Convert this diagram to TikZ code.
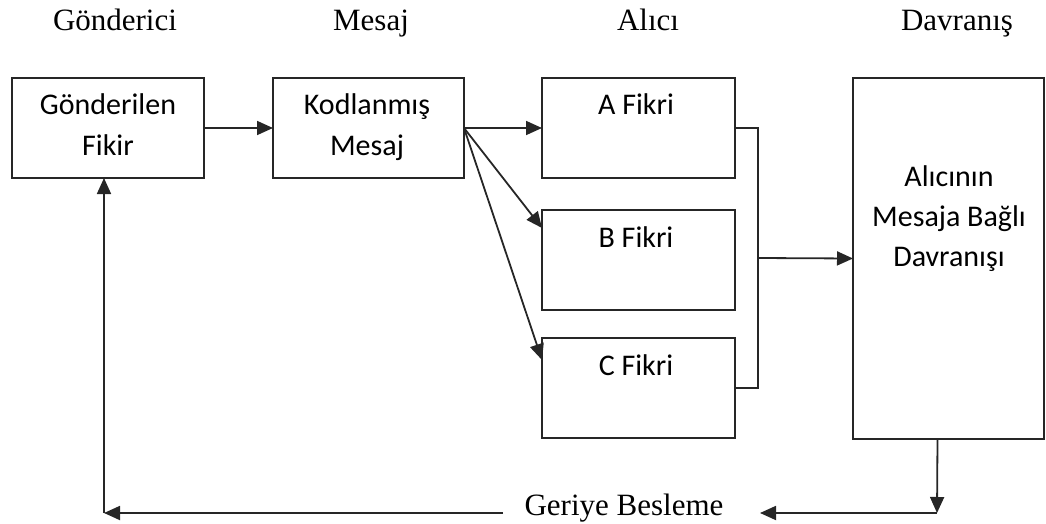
\documentclass[tikz,border=0pt]{standalone}
\usepackage{fontspec}
\setmainfont{Liberation Serif}
\newfontfamily\boxfont{Carlito}
\usetikzlibrary{arrows.meta,calc}
\begin{document}
\begin{tikzpicture}[x=1pt,y=-1pt,
  box/.style={draw=black!85, line width=1.8pt, inner sep=0pt, outer sep=0pt},
  boxtext/.style={font=\boxfont\fontsize{30}{40}\selectfont, align=center, anchor=base, inner sep=0pt},
  head/.style={font=\fontsize{31}{36}\selectfont, anchor=base, inner sep=0pt},
  link/.style={draw=black!85, line width=1.8pt},
  arr/.style={link, -{Triangle[length=16pt,width=14pt]}}]
\useasboundingbox (0,0) rectangle (1046,524);

% column headings
\node[head] (h1) at (115,31) {Gönderici};
\node[head] (h2) at (371,31) {Mesaj};
\node[head] (h3) at (648,31) {Alıcı};
\node[head] (h4) at (957,31) {Davranış};

% boxes
\node[box, minimum width=192pt, minimum height=100pt] (g) at (108,128) {};
\node[box, minimum width=191pt, minimum height=100pt] (k) at (368.5,128) {};
\node[box, minimum width=193pt, minimum height=100pt] (a) at (638.5,128) {};
\node[box, minimum width=193pt, minimum height=100pt] (b) at (638.5,260) {};
\node[box, minimum width=193pt, minimum height=100pt] (c) at (638.5,388) {};
\node[box, minimum width=191pt, minimum height=361pt] (d) at (948.5,258.5) {};

% box texts (base = baseline of the last line)
\node[boxtext] (gt) at (108,155) {Gönderilen\\Fikir};
\node[boxtext] (kt) at (367,155) {Kodlanmış\\Mesaj};
\node[boxtext] (at) at (636,115) {A Fikri};
\node[boxtext] (bt) at (636,247) {B Fikri};
\node[boxtext] (ct) at (636,375) {C Fikri};
\node[boxtext] (dt) at (949,266) {Alıcının\\Mesaja Bağlı\\Davranışı};

% feedback label
\node[head] (fb) at (624,515) {Geriye Besleme};

% forward flow
\draw[arr] (g.east) -- (k.west);
\draw[arr] (k.east) -- (a.west);
\draw[arr] (k.east) -- ($(b.north west)+(0,18)$);
\draw[arr] (k.east) -- ($(c.north west)+(0,22)$);

% join of the three ideas
\coordinate (j) at ($(a.east)!0.5!(c.east)+(23,0)$);
\draw[link] (a.east) -| (j) |- (c.east);
\draw[arr] (j) -- (d.west);

% feedback loop
\coordinate (dout) at ($(d.south)+(-11,0)$);
\coordinate (corner) at (937,513);
\coordinate (fbr) at (760,513);
\coordinate (fbl) at (503,513);
\coordinate (gcorner) at (104,513);
\draw[arr] (dout) -- (corner);
\draw[arr] (corner) -- (fbr);
\draw[arr] (fbl) -- (gcorner);
\draw[arr] (gcorner) -- ($(g.south)+(-4,0)$);
\end{tikzpicture}
\end{document}
